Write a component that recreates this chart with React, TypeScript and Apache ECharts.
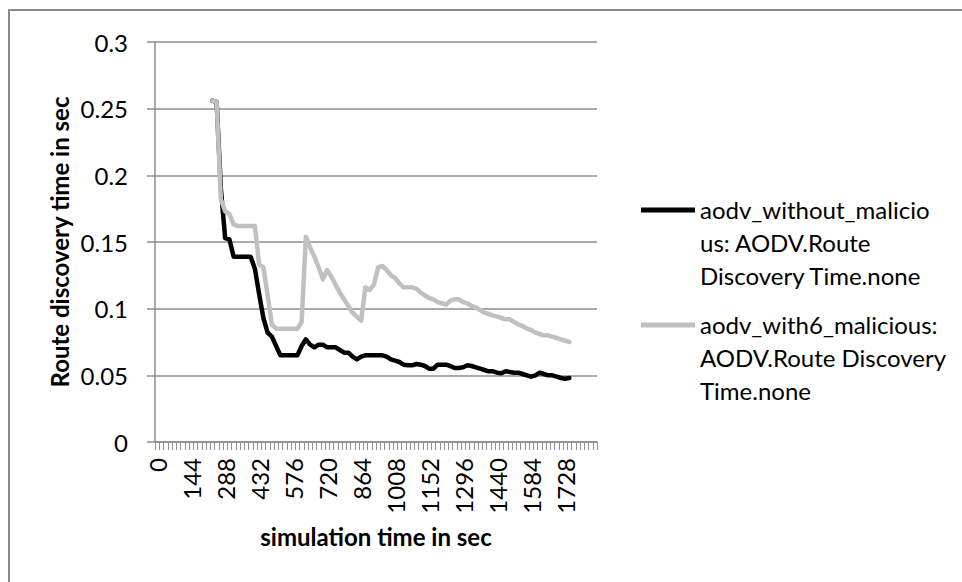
import React, { useEffect, useRef } from "react";
import * as echarts from "echarts";

const timeLabels: string[] = [
  "0", "18", "36", "54", "72", "90", "108", "126", "144", "162", "180", "198", "216", "234", "252", "270",
  "288", "306", "324", "342", "360", "378", "396", "414", "432", "450", "468", "486", "504", "522", "540", "558",
  "576", "594", "612", "630", "648", "666", "684", "702", "720", "738", "756", "774", "792", "810", "828", "846",
  "864", "882", "900", "918", "936", "954", "972", "990", "1008", "1026", "1044", "1062", "1080", "1098", "1116", "1134",
  "1152", "1170", "1188", "1206", "1224", "1242", "1260", "1278", "1296", "1314", "1332", "1350", "1368", "1386", "1404", "1422",
  "1440", "1458", "1476", "1494", "1512", "1530", "1548", "1566", "1584", "1602", "1620", "1638", "1656", "1674", "1692", "1710",
  "1728", "1746", "1764", "1782", "1800", "1818", "1836", "1854",
];

// first sample time of both series
const firstTime = "234";

const withoutMaliciousName = "aodv_without_malicious: AODV.Route Discovery Time.none";
const with6MaliciousName = "aodv_with6_malicious: AODV.Route Discovery Time.none";

const withoutMalicious: number[] = [
  0.256, 0.255, 0.19, 0.153, 0.152, 0.139, 0.139, 0.139, 0.139, 0.139,
  0.13, 0.111, 0.093, 0.082, 0.079, 0.072, 0.065, 0.065, 0.065, 0.065,
  0.065, 0.072, 0.077, 0.073, 0.071, 0.073, 0.073, 0.071, 0.071, 0.071,
  0.069, 0.067, 0.067, 0.064, 0.062, 0.064, 0.065, 0.065, 0.065, 0.065,
  0.065, 0.064, 0.062, 0.061, 0.06, 0.058, 0.0575, 0.0575, 0.0585, 0.058,
  0.057, 0.055, 0.055, 0.058, 0.058, 0.058, 0.057, 0.0555, 0.0555, 0.056,
  0.0575, 0.057, 0.056, 0.055, 0.054, 0.053, 0.053, 0.052, 0.0515, 0.053,
  0.0525, 0.052, 0.052, 0.051, 0.05, 0.049, 0.05, 0.052, 0.051, 0.05,
  0.05, 0.049, 0.048, 0.0475, 0.048,
];

const with6Malicious: number[] = [
  0.256, 0.255, 0.182, 0.173, 0.171, 0.163, 0.162, 0.162, 0.162, 0.162,
  0.162, 0.133, 0.131, 0.11, 0.088, 0.085, 0.085, 0.085, 0.085, 0.085,
  0.085, 0.09, 0.154, 0.146, 0.139, 0.131, 0.122, 0.129, 0.124, 0.118,
  0.112, 0.107, 0.102, 0.097, 0.094, 0.091, 0.116, 0.114, 0.118, 0.131,
  0.132, 0.129, 0.125, 0.123, 0.119, 0.116, 0.116, 0.116, 0.115, 0.112,
  0.11, 0.108, 0.107, 0.105, 0.104, 0.103, 0.106, 0.107, 0.107, 0.105,
  0.104, 0.102, 0.101, 0.099, 0.097, 0.096, 0.095, 0.094, 0.093, 0.092,
  0.092, 0.09, 0.088, 0.087, 0.085, 0.084, 0.082, 0.081, 0.08, 0.08,
  0.079, 0.078, 0.077, 0.076, 0.075,
];

const legendText: Record<string, string> = {
  [withoutMaliciousName]: "aodv_without_malicio\nus: AODV.Route\nDiscovery Time.none",
  [with6MaliciousName]: "aodv_with6_malicious:\nAODV.Route Discovery\nTime.none",
};

const FONT = "Lato, 'Open Sans', sans-serif";
const FS = 24;
const GRID_GRAY = "#8e8e8e";

export default function App() {
  const ref = useRef<HTMLDivElement>(null);
  useEffect(() => {
    const chart = echarts.init(ref.current!, null, { renderer: "svg" });
    const start = timeLabels.indexOf(firstTime);
    const pad = (vals: number[]) =>
      timeLabels.map((_, i) => (i >= start && i - start < vals.length ? vals[i - start] : null));

    chart.setOption({
      animation: false,
      backgroundColor: "#ffffff",
      textStyle: { fontFamily: FONT },
      graphic: [
        {
          type: "rect",
          shape: { x: 9, y: 10, width: 1200, height: 1200 },
          style: { fill: "none", stroke: "#8a8a8a", lineWidth: 2 },
          silent: true,
        },
      ],
      grid: { left: 155, right: 365, top: 42, bottom: 140, containLabel: false },
      legend: {
        orient: "vertical",
        left: 636,
        top: 188,
        itemGap: 16,
        itemWidth: 54,
        itemHeight: 70,
        icon: "path://M0,0L54,0L54,5L0,5Z M0,70L0.01,70L0.01,70.01Z",
        formatter: (name: string) => legendText[name] ?? name,
        textStyle: { fontFamily: FONT, fontSize: FS, lineHeight: 33, color: "#000" },
        data: [withoutMaliciousName, with6MaliciousName],
      },
      xAxis: {
        type: "category",
        data: timeLabels,
        boundaryGap: true,
        name: "simulation time in sec",
        nameLocation: "middle",
        nameGap: 82,
        nameTextStyle: { fontFamily: FONT, fontSize: FS, fontWeight: "bold", color: "#000" },
        axisLine: { show: true, lineStyle: { color: GRID_GRAY, width: 1.5 } },
        axisTick: { show: true, interval: 0, length: 8, lineStyle: { color: GRID_GRAY, width: 1 } },
        axisLabel: { interval: 7, rotate: 90, margin: 16, fontFamily: FONT, fontSize: FS, color: "#000" },
        splitLine: { show: false },
      },
      yAxis: {
        type: "value",
        min: 0,
        max: 0.3,
        interval: 0.05,
        name: "Route discovery time in sec",
        nameLocation: "middle",
        nameGap: 84,
        nameRotate: 90,
        nameTextStyle: { fontFamily: FONT, fontSize: FS, fontWeight: "bold", color: "#000" },
        axisLine: { show: true, lineStyle: { color: GRID_GRAY, width: 1.5 } },
        axisTick: { show: true, length: 8, lineStyle: { color: GRID_GRAY, width: 1.5 } },
        axisLabel: { margin: 27, fontFamily: FONT, fontSize: FS, color: "#000" },
        splitLine: { show: true, lineStyle: { color: GRID_GRAY, width: 1.5 } },
      },
      series: [
        {
          name: withoutMaliciousName,
          type: "line",
          data: pad(withoutMalicious),
          symbol: "none",
          color: "#000000",
          lineStyle: { color: "#000000", width: 4.5, cap: "round", join: "round" },
          connectNulls: false,
        },
        {
          name: with6MaliciousName,
          type: "line",
          data: pad(with6Malicious),
          symbol: "none",
          color: "#c0c0c0",
          lineStyle: { color: "#c0c0c0", width: 4.5, cap: "round", join: "round" },
          connectNulls: false,
        },
      ],
    });
    return () => chart.dispose();
  }, []);
  return (
    <div
      ref={ref}
      style={{ position: "fixed", left: 0, top: 0, width: 962, height: 582, background: "#fff" }}
    />
  );
}
